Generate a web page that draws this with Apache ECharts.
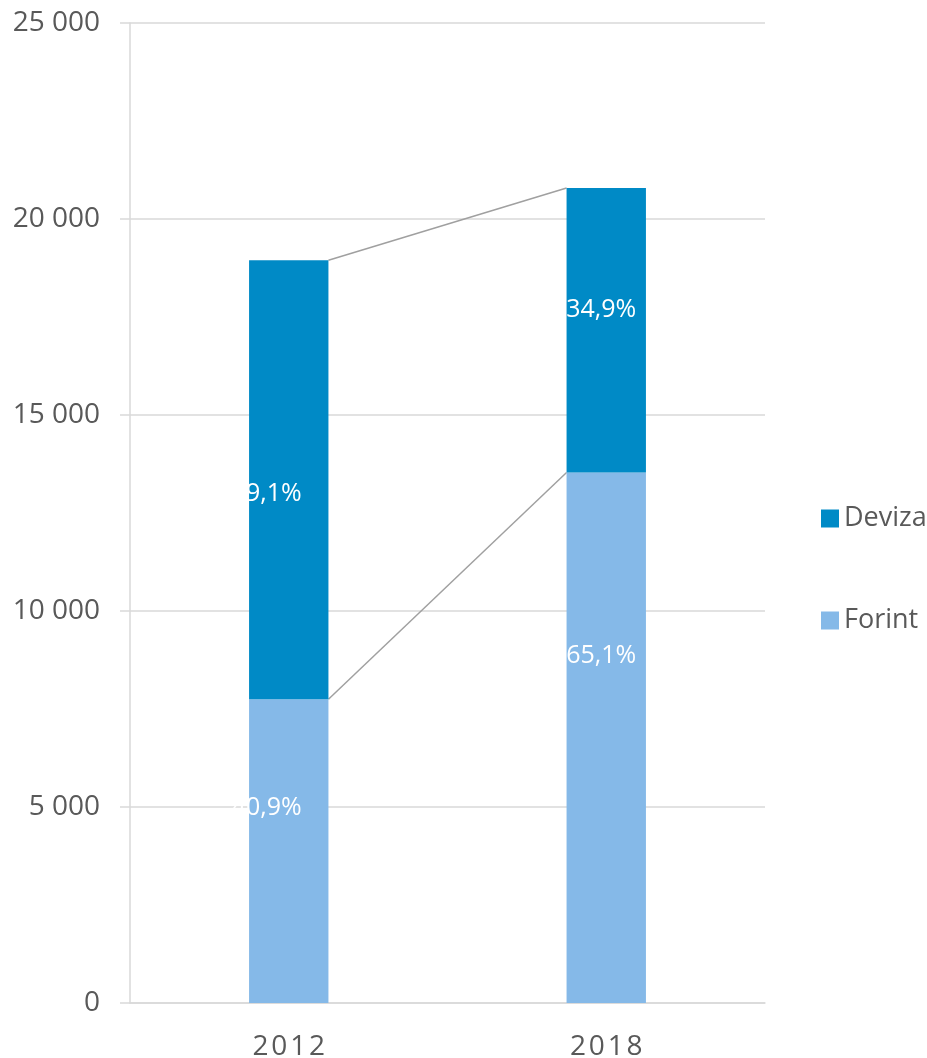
<!DOCTYPE html>
<html><head><meta charset="utf-8">
<script src="https://cdn.jsdelivr.net/npm/echarts@6/dist/echarts.min.js"></script>
<style>html,body{margin:0;padding:0;background:#fff}#c{width:927px;height:1058px}</style>
</head><body><div id="c"></div>
<script>
const categories = ['2012', '2018'];
const forint = [7750, 13534];
const deviza = [11200, 7256];
const forintPct = ['40,9%', '65,1%'];
const devizaPct = ['59,1%', '34,9%'];
const yTicks = [0, 5000, 10000, 15000, 20000, 25000];

const totals = forint.map((v, i) => v + deviza[i]);
const font = '"Open Sans", sans-serif';
const forintOffsets = [[-22, -43], [-5, -82]];
const devizaOffsets = [[-22, 14], [-5, -20]];

const chart = echarts.init(document.getElementById('c'));
chart.setOption({
  animation: false,
  grid: { left: 130, right: 162, top: 23, bottom: 55, outerBoundsMode: 'none', containLabel: false },
  legend: {
    orient: 'vertical', left: 816, top: 500,
    itemWidth: 18, itemHeight: 18, itemGap: 75,
    icon: 'rect',
    data: ['Deviza', 'Forint'],
    textStyle: { fontFamily: font, fontSize: 27, color: '#595959', padding: [0, 0, 0, 0] }
  },
  xAxis: {
    type: 'category', data: categories,
    axisLine: { lineStyle: { color: '#d9d9d9', width: 1.5 } },
    axisTick: { show: false },
    axisLabel: {
      fontFamily: font, fontSize: 28, color: '#595959', margin: 30,
      formatter: v => v.split('').join('\u200A')
    }
  },
  yAxis: {
    type: 'value', min: 0, max: 25000, interval: 5000,
    axisLine: { show: true, lineStyle: { color: '#d9d9d9', width: 1.5 } },
    axisTick: { show: true, length: 10, lineStyle: { color: '#d9d9d9', width: 1.5 } },
    splitLine: { lineStyle: { color: '#d9d9d9', width: 1.5 } },
    axisLabel: {
      fontFamily: font, fontSize: 28, color: '#595959', margin: 30,
      formatter: v => yTicks.includes(v) ? String(v).replace(/\B(?=(\d{3})+(?!\d))/g, ' ') : ''
    }
  },
  series: [
    {
      name: 'Forint', type: 'bar', stack: 's', barWidth: '25%',
      itemStyle: { color: '#85B9E8' },
      data: forint.map((v, i) => ({
        value: v,
        label: { show: true, position: 'inside', offset: forintOffsets[i], formatter: forintPct[i] }
      })),
      label: { color: '#fff', fontFamily: font, fontSize: 25 }
    },
    {
      name: 'Deviza', type: 'bar', stack: 's', barWidth: '25%',
      itemStyle: { color: '#008AC6' },
      data: deviza.map((v, i) => ({
        value: v,
        label: { show: true, position: 'inside', offset: devizaOffsets[i], formatter: devizaPct[i] }
      })),
      label: { color: '#fff', fontFamily: font, fontSize: 25 }
    },
    {
      type: 'custom', name: 'connectors', silent: true, z: 1,
      data: [[0, forint[0], forint[1]], [0, totals[0], totals[1]]],
      encode: { x: 0, y: [1, 2] },
      renderItem: (params, api) => {
        const a = api.coord([0, api.value(1)]);
        const b = api.coord([1, api.value(2)]);
        const bw = api.size([1, 0])[0] * 0.25;
        return {
          type: 'line',
          shape: { x1: a[0] + bw / 2, y1: a[1], x2: b[0] - bw / 2, y2: b[1] },
          style: { stroke: '#a0a0a0', lineWidth: 1.5 }
        };
      }
    }
  ]
});
</script></body></html>
